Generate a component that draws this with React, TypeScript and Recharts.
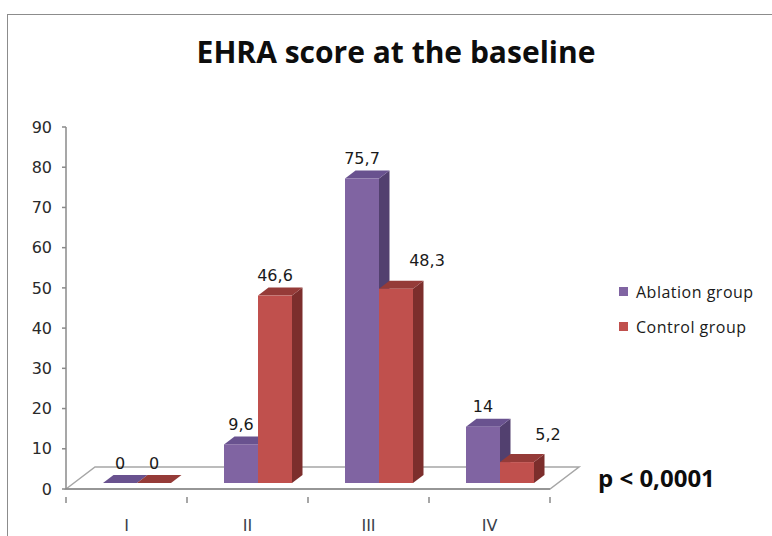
import { Bar, BarChart, LabelList, Legend, ReferenceLine, XAxis, YAxis } from 'recharts'

const CATEGORIES = ['I', 'II', 'III', 'IV']
const ABLATION = [0, 9.6, 75.7, 14]
const CONTROL = [0, 46.6, 48.3, 5.2]
const Y_TICKS = [0, 10, 20, 30, 40, 50, 60, 70, 80, 90]

const SERIES_NAMES = { ablation: 'Ablation group', control: 'Control group' }

// label nudges where Excel pushed the red label sideways to dodge the purple bar
const CONTROL_LABEL_NUDGE = [
  { dx: 0, dy: 0 },
  { dx: 0, dy: 0 },
  { dx: 31, dy: -8 },
  { dx: 31, dy: -8 },
]
const NO_NUDGE = CATEGORIES.map(() => ({ dx: 0, dy: 0 }))

const PURPLE = { front: '#8064a2', top: '#69528f', side: '#52406f' }
const RED = { front: '#c0504d', top: '#953b38', side: '#7c2e2c' }

const AXIS_GREY = '#8a8a8a'
const FLOOR_GREY = '#a6a6a6'
const TICK_FONT = '"DejaVu Sans", Verdana, sans-serif'
const TEXT_FONT = '"Open Sans", "Noto Sans", sans-serif'

// fake 3D: bars sit a little behind the front edge of the floor
const SHIFT_X = 10
const SHIFT_Y = -6
const DEPTH_X = 10.5
const DEPTH_Y = -8
const FLOOR_DX = 29
const FLOOR_DY = -22

const data = CATEGORIES.map((category, i) => ({
  category,
  ablation: ABLATION[i],
  control: CONTROL[i],
}))

type Faces = { front: string; top: string; side: string }

function makeBar3d(faces: Faces) {
  return function Bar3d(props: any) {
    const { x, y, width, height } = props
    if (x == null || y == null) return <g />
    const h = Math.max(0, height || 0)
    const x0 = x + SHIFT_X
    const y0 = y + SHIFT_Y
    const w = width
    const top = `${x0},${y0} ${x0 + DEPTH_X},${y0 + DEPTH_Y} ${x0 + w + DEPTH_X},${y0 + DEPTH_Y} ${x0 + w},${y0}`
    if (h < 0.5) {
      return (
        <g>
          <polygon points={top} fill={faces.top} />
        </g>
      )
    }
    const side = `${x0 + w},${y0} ${x0 + w + DEPTH_X},${y0 + DEPTH_Y} ${x0 + w + DEPTH_X},${y0 + h + DEPTH_Y} ${x0 + w},${y0 + h}`
    return (
      <g>
        <polygon points={side} fill={faces.side} />
        <polygon points={top} fill={faces.top} />
        <rect x={x0} y={y0} width={w} height={h} fill={faces.front} />
      </g>
    )
  }
}

function makeLabel(nudges: { dx: number; dy: number }[]) {
  return function BarLabel(props: any) {
    const { x, y, width, value, index } = props
    if (x == null || y == null) return null
    const n = nudges[index] || { dx: 0, dy: 0 }
    const cx = x + SHIFT_X + width / 2 + n.dx
    const cy = y + SHIFT_Y + DEPTH_Y - 12 + n.dy
    return (
      <text
        x={cx}
        y={cy}
        textAnchor="middle"
        dominantBaseline="central"
        fontFamily={TICK_FONT}
        fontSize={16}
        fill="#1a1a1a"
      >
        {String(value).replace('.', ',')}
      </text>
    )
  }
}

function Floor(props: any) {
  const { x1, y1, x2 } = props
  if (x1 == null) return <g />
  const pts = `${x1},${y1} ${x1 + FLOOR_DX},${y1 + FLOOR_DY} ${x2 + FLOOR_DX},${y1 + FLOOR_DY} ${x2},${y1}`
  return (
    <g>
      <polygon points={pts} fill="#fff" stroke={FLOOR_GREY} strokeWidth={1.5} />
      <line x1={x1} y1={y1} x2={x2} y2={y1} stroke={AXIS_GREY} strokeWidth={1.5} />
    </g>
  )
}

function CategoryTick(props: any) {
  const { x, y, payload, index } = props
  const half = payload?.offset ?? 0
  const last = index === CATEGORIES.length - 1
  return (
    <g>
      <line x1={x - half} y1={y} x2={x - half} y2={y + 6} stroke={AXIS_GREY} strokeWidth={1.5} />
      {last && (
        <line x1={x + half} y1={y} x2={x + half} y2={y + 6} stroke={AXIS_GREY} strokeWidth={1.5} />
      )}
      <text
        x={x}
        y={y + 28}
        textAnchor="middle"
        dominantBaseline="central"
        fontFamily={TICK_FONT}
        fontSize={16}
        fill="#3a3f4a"
      >
        {payload.value}
      </text>
    </g>
  )
}

function LegendBox() {
  const rows = [
    { name: SERIES_NAMES.ablation, color: PURPLE.front },
    { name: SERIES_NAMES.control, color: RED.front },
  ]
  return (
    <div style={{ fontFamily: TEXT_FONT, fontSize: 16, color: '#1a1a1a', letterSpacing: 0.5 }}>
      {rows.map((r) => (
        <div key={r.name} style={{ display: 'flex', alignItems: 'center', height: 35 }}>
          <span
            style={{ width: 9, height: 9, background: r.color, display: 'inline-block', marginRight: 8 }}
          />
          <span>{r.name}</span>
        </div>
      ))}
    </div>
  )
}

export default function App() {
  return (
    <div
      style={{
        position: 'fixed',
        left: 0,
        top: 0,
        width: 772,
        height: 536,
        overflow: 'hidden',
        background: '#fff',
      }}
    >
      <div
        style={{
          position: 'absolute',
          left: 7,
          top: 14,
          width: 900,
          height: 700,
          borderTop: '1.5px solid #8c8c8c',
          borderLeft: '1.5px solid #8c8c8c',
        }}
      />
      <div style={{ position: 'absolute', left: 0, top: 0 }}>
        <BarChart
          width={772}
          height={536}
          data={data}
          margin={{ top: 127, right: 222, bottom: 0, left: 0 }}
          barGap={0}
          barSize={34}
        >
          <XAxis
            dataKey="category"
            height={47}
            axisLine={false}
            tickLine={false}
            tick={<CategoryTick />}
            interval={0}
          />
          <YAxis
            width={66}
            domain={[0, 90]}
            ticks={Y_TICKS}
            interval={0}
            tickSize={4}
            tickMargin={10}
            axisLine={{ stroke: AXIS_GREY, strokeWidth: 1.5 }}
            tickLine={{ stroke: AXIS_GREY, strokeWidth: 1.5 }}
            tick={{ fontFamily: TICK_FONT, fontSize: 16, fill: '#2a2a2a' }}
          />
          <ReferenceLine y={0} shape={Floor} zIndex={-50} />
          <Legend
            layout="vertical"
            align="center"
            verticalAlign="middle"
            content={<LegendBox />}
            wrapperStyle={{ left: 619, top: 274, width: 150 }}
          />
          <Bar
            dataKey="ablation"
            name={SERIES_NAMES.ablation}
            fill={PURPLE.front}
            shape={makeBar3d(PURPLE)}
            isAnimationActive={false}
          >
            <LabelList dataKey="ablation" content={makeLabel(NO_NUDGE)} />
          </Bar>
          <Bar
            dataKey="control"
            name={SERIES_NAMES.control}
            fill={RED.front}
            shape={makeBar3d(RED)}
            isAnimationActive={false}
          >
            <LabelList dataKey="control" content={makeLabel(CONTROL_LABEL_NUDGE)} />
          </Bar>
        </BarChart>
      </div>
      <svg
        width={772}
        height={536}
        style={{ position: 'absolute', left: 0, top: 0, pointerEvents: 'none' }}
      >
        <text x={396} y={63} textAnchor="middle" fontFamily={TEXT_FONT} fontWeight={700} fontSize={30} fill="#0d0d0d">
          EHRA score at the baseline
        </text>
        <text x={598} y={487} fontFamily={TEXT_FONT} fontWeight={700} fontSize={24} fill="#0d0d0d">
          p &lt; 0,0001
        </text>
      </svg>
    </div>
  )
}
